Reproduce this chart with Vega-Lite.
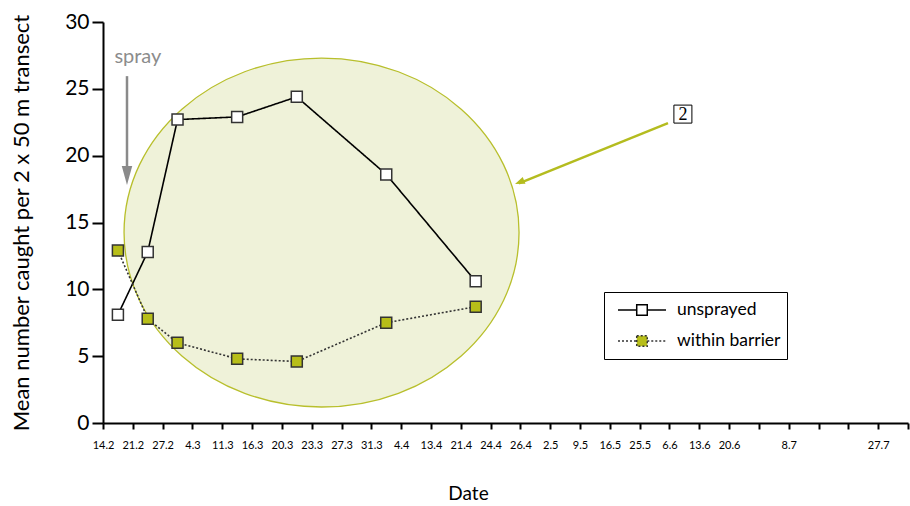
{
  "$schema": "https://vega.github.io/schema/vega-lite/v6.json",
  "width": 805,
  "height": 401,
  "autosize": {"type": "none"},
  "padding": {"left": 103, "top": 22, "right": 2, "bottom": 83},
  "background": "white",
  "config": {"view": {"stroke": null}, "font": "Lato"},
  "encoding": {
    "y": {
      "field": "count",
      "type": "quantitative",
      "scale": {"domain": [0, 30], "nice": false},
      "axis": {
        "values": [0, 5, 10, 15, 20, 25, 30],
        "title": "Mean number caught per 2 x 50 m transect",
        "titleFont": "Lato",
        "titleFontSize": 22,
        "titleFontWeight": "normal",
        "titleColor": "black",
        "titlePadding": 31,
        "labelFont": "Lato",
        "labelFontSize": 21,
        "labelColor": "black",
        "labelPadding": 3,
        "tickSize": 11,
        "tickWidth": 2,
        "tickColor": "black",
        "domainWidth": 2,
        "domainColor": "black",
        "grid": false
      }
    }
  },
  "layer": [
    {
      "data": {"values": [{"pos": 7.33, "count": 14.25}]},
      "mark": {
        "type": "point",
        "shape": "M-1,0 A1,0.8835 0 1,1 1,0 A1,0.8835 0 1,1 -1,0 Z",
        "size": 156025,
        "filled": true,
        "fill": "#eff2d9",
        "stroke": "#b8bf2c",
        "strokeWidth": 1.3,
        "opacity": 1
      },
      "encoding": {
        "x": {"field": "pos", "type": "quantitative", "scale": {"domain": [0, 27], "nice": false, "zero": false}, "axis": null}
      }
    },
    {
      "data": {
        "values": [
          {"date": "14.2", "series": "unsprayed", "count": 8.1},
          {"date": "21.2", "series": "unsprayed", "count": 12.8},
          {"date": "27.2", "series": "unsprayed", "count": 22.7},
          {"date": "11.3", "series": "unsprayed", "count": 22.9},
          {"date": "20.3", "series": "unsprayed", "count": 24.4},
          {"date": "31.3", "series": "unsprayed", "count": 18.6},
          {"date": "21.4", "series": "unsprayed", "count": 10.6},
          {"date": "14.2", "series": "within barrier", "count": 12.9},
          {"date": "21.2", "series": "within barrier", "count": 7.8},
          {"date": "27.2", "series": "within barrier", "count": 6.0},
          {"date": "11.3", "series": "within barrier", "count": 4.8},
          {"date": "20.3", "series": "within barrier", "count": 4.6},
          {"date": "31.3", "series": "within barrier", "count": 7.5},
          {"date": "21.4", "series": "within barrier", "count": 8.7}
        ]
      },
      "encoding": {
        "x": {
          "field": "date",
          "type": "nominal",
          "sort": null,
          "scale": {
            "domain": ["14.2", "21.2", "27.2", "4.3", "11.3", "16.3", "20.3", "23.3", "27.3", "31.3", "4.4", "13.4", "21.4", "24.4", "26.4", "2.5", "9.5", "16.5", "25.5", "6.6", "13.6", "20.6", " ", "8.7", "  ", "   ", "27.7"],
            "paddingInner": 0,
            "paddingOuter": 0
          },
          "axis": {
            "title": "Date",
            "titleFont": "Lato",
            "titleFontSize": 19,
            "titleFontWeight": "normal",
            "titleColor": "black",
            "titleX": 365,
            "titleY": 61,
            "labelAngle": 0,
            "labelFont": "Lato",
            "labelFontSize": 11,
            "labelColor": "black",
            "labelOffset": -14.9,
            "labelPadding": 10,
            "labelOverlap": false,
            "tickBand": "extent",
            "tickSize": 6,
            "tickWidth": 2,
            "tickColor": "black",
            "domainColor": "black",
            "domainWidth": 2,
            "grid": false
          }
        }
      },
      "layer": [
        {
          "mark": {"type": "line", "strokeWidth": 1.6},
          "encoding": {
            "order": {"value": null},
            "color": {
              "field": "series",
              "type": "nominal",
              "scale": {"domain": ["unsprayed", "within barrier"], "range": ["#000000", "#333333"]},
              "legend": {
                "title": null,
                "orient": "none",
                "legendX": 501,
                "legendY": 270,
                "symbolType": "M-1,0 H-0.22 M0.22,0 H1 M-0.22,-0.22 H0.22 V0.22 H-0.22 Z",
                "symbolSize": 2304,
                "symbolStrokeWidth": 1.5,
                "clipHeight": 24,
                "rowPadding": 7,
                "padding": 6,
                "strokeColor": "black",
                "fillColor": "white",
                "labelFont": "Lato",
                "labelFontSize": 17.5,
                "labelColor": "black",
                "symbolOffset": 7,
                "labelOffset": 10
              }
            },
            "strokeDash": {
              "field": "series",
              "type": "nominal",
              "scale": {"domain": ["unsprayed", "within barrier"], "range": [[1, 0], [2, 2]]},
              "legend": {
                "title": null,
                "orient": "none",
                "legendX": 501,
                "legendY": 270,
                "symbolType": "M-1,0 H-0.22 M0.22,0 H1 M-0.22,-0.22 H0.22 V0.22 H-0.22 Z",
                "symbolSize": 2304,
                "symbolStrokeWidth": 1.5,
                "clipHeight": 24,
                "rowPadding": 7,
                "padding": 6,
                "strokeColor": "black",
                "fillColor": "white",
                "labelFont": "Lato",
                "labelFontSize": 17.5,
                "labelColor": "black",
                "symbolOffset": 7,
                "labelOffset": 10
              }
            }
          }
        },
        {
          "mark": {"type": "point", "shape": "square", "filled": true, "size": 121, "stroke": "#333333", "strokeWidth": 1.5, "opacity": 1},
          "encoding": {
            "fill": {
              "field": "series",
              "type": "nominal",
              "scale": {"domain": ["unsprayed", "within barrier"], "range": ["#ffffff", "#b7be19"]},
              "legend": {
                "title": null,
                "orient": "none",
                "legendX": 501,
                "legendY": 270,
                "symbolType": "M-1,0 H-0.22 M0.22,0 H1 M-0.22,-0.22 H0.22 V0.22 H-0.22 Z",
                "symbolSize": 2304,
                "symbolStrokeWidth": 1.5,
                "clipHeight": 24,
                "rowPadding": 7,
                "padding": 6,
                "strokeColor": "black",
                "fillColor": "white",
                "labelFont": "Lato",
                "labelFontSize": 17.5,
                "labelColor": "black",
                "symbolOffset": 7,
                "labelOffset": 10
              }
            }
          }
        }
      ]
    },
    {
      "encoding": {
        "x": {"field": "pos", "type": "quantitative", "scale": {"domain": [0, 27], "nice": false, "zero": false}, "axis": null}
      },
      "layer": [
        {
          "data": {"values": [{"pos": 0.805, "count": 25.95, "count_end": 19.2}]},
          "mark": {"type": "rule", "color": "#8a8a8a", "strokeWidth": 2.5},
          "encoding": {"y2": {"field": "count_end"}}
        },
        {
          "data": {"values": [{"pos": 0.805, "count": 17.8}]},
          "mark": {"type": "point", "shape": "M0,0 L-0.55,-2 L0.55,-2 Z", "size": 361, "filled": true, "color": "#8a8a8a", "opacity": 1}
        },
        {
          "data": {"values": [{"pos": 1.17, "count": 26.93, "label": "spray"}]},
          "mark": {"type": "text", "font": "Lato", "fontSize": 20, "color": "#8c8c8c", "align": "center", "baseline": "alphabetic"},
          "encoding": {"text": {"field": "label"}}
        },
        {
          "data": {"values": [{"pos": 18.95, "count": 22.44, "pos_end": 13.95, "count_end": 17.93}]},
          "mark": {"type": "rule", "color": "#b4bc1f", "strokeWidth": 2.5},
          "encoding": {"x2": {"field": "pos_end"}, "y2": {"field": "count_end"}}
        },
        {
          "data": {"values": [{"pos": 13.82, "count": 17.88}]},
          "mark": {"type": "point", "shape": "M0,0 L0.5,1.3 L-0.5,1.3 Z", "size": 225, "angle": 248.2, "filled": true, "color": "#b4bc1f", "opacity": 1}
        },
        {
          "data": {"values": [{"pos": 19.45, "count": 23.11}]},
          "mark": {"type": "point", "shape": "square", "size": 324, "filled": true, "fill": "white", "stroke": "black", "strokeWidth": 1, "opacity": 1}
        },
        {
          "data": {"values": [{"pos": 19.45, "count": 23.11, "label": "2"}]},
          "mark": {"type": "text", "font": "Liberation Serif", "fontSize": 18, "color": "black", "align": "center", "baseline": "middle", "dy": 1},
          "encoding": {"text": {"field": "label"}}
        }
      ]
    }
  ],
  "resolve": {"scale": {"x": "independent"}}
}
